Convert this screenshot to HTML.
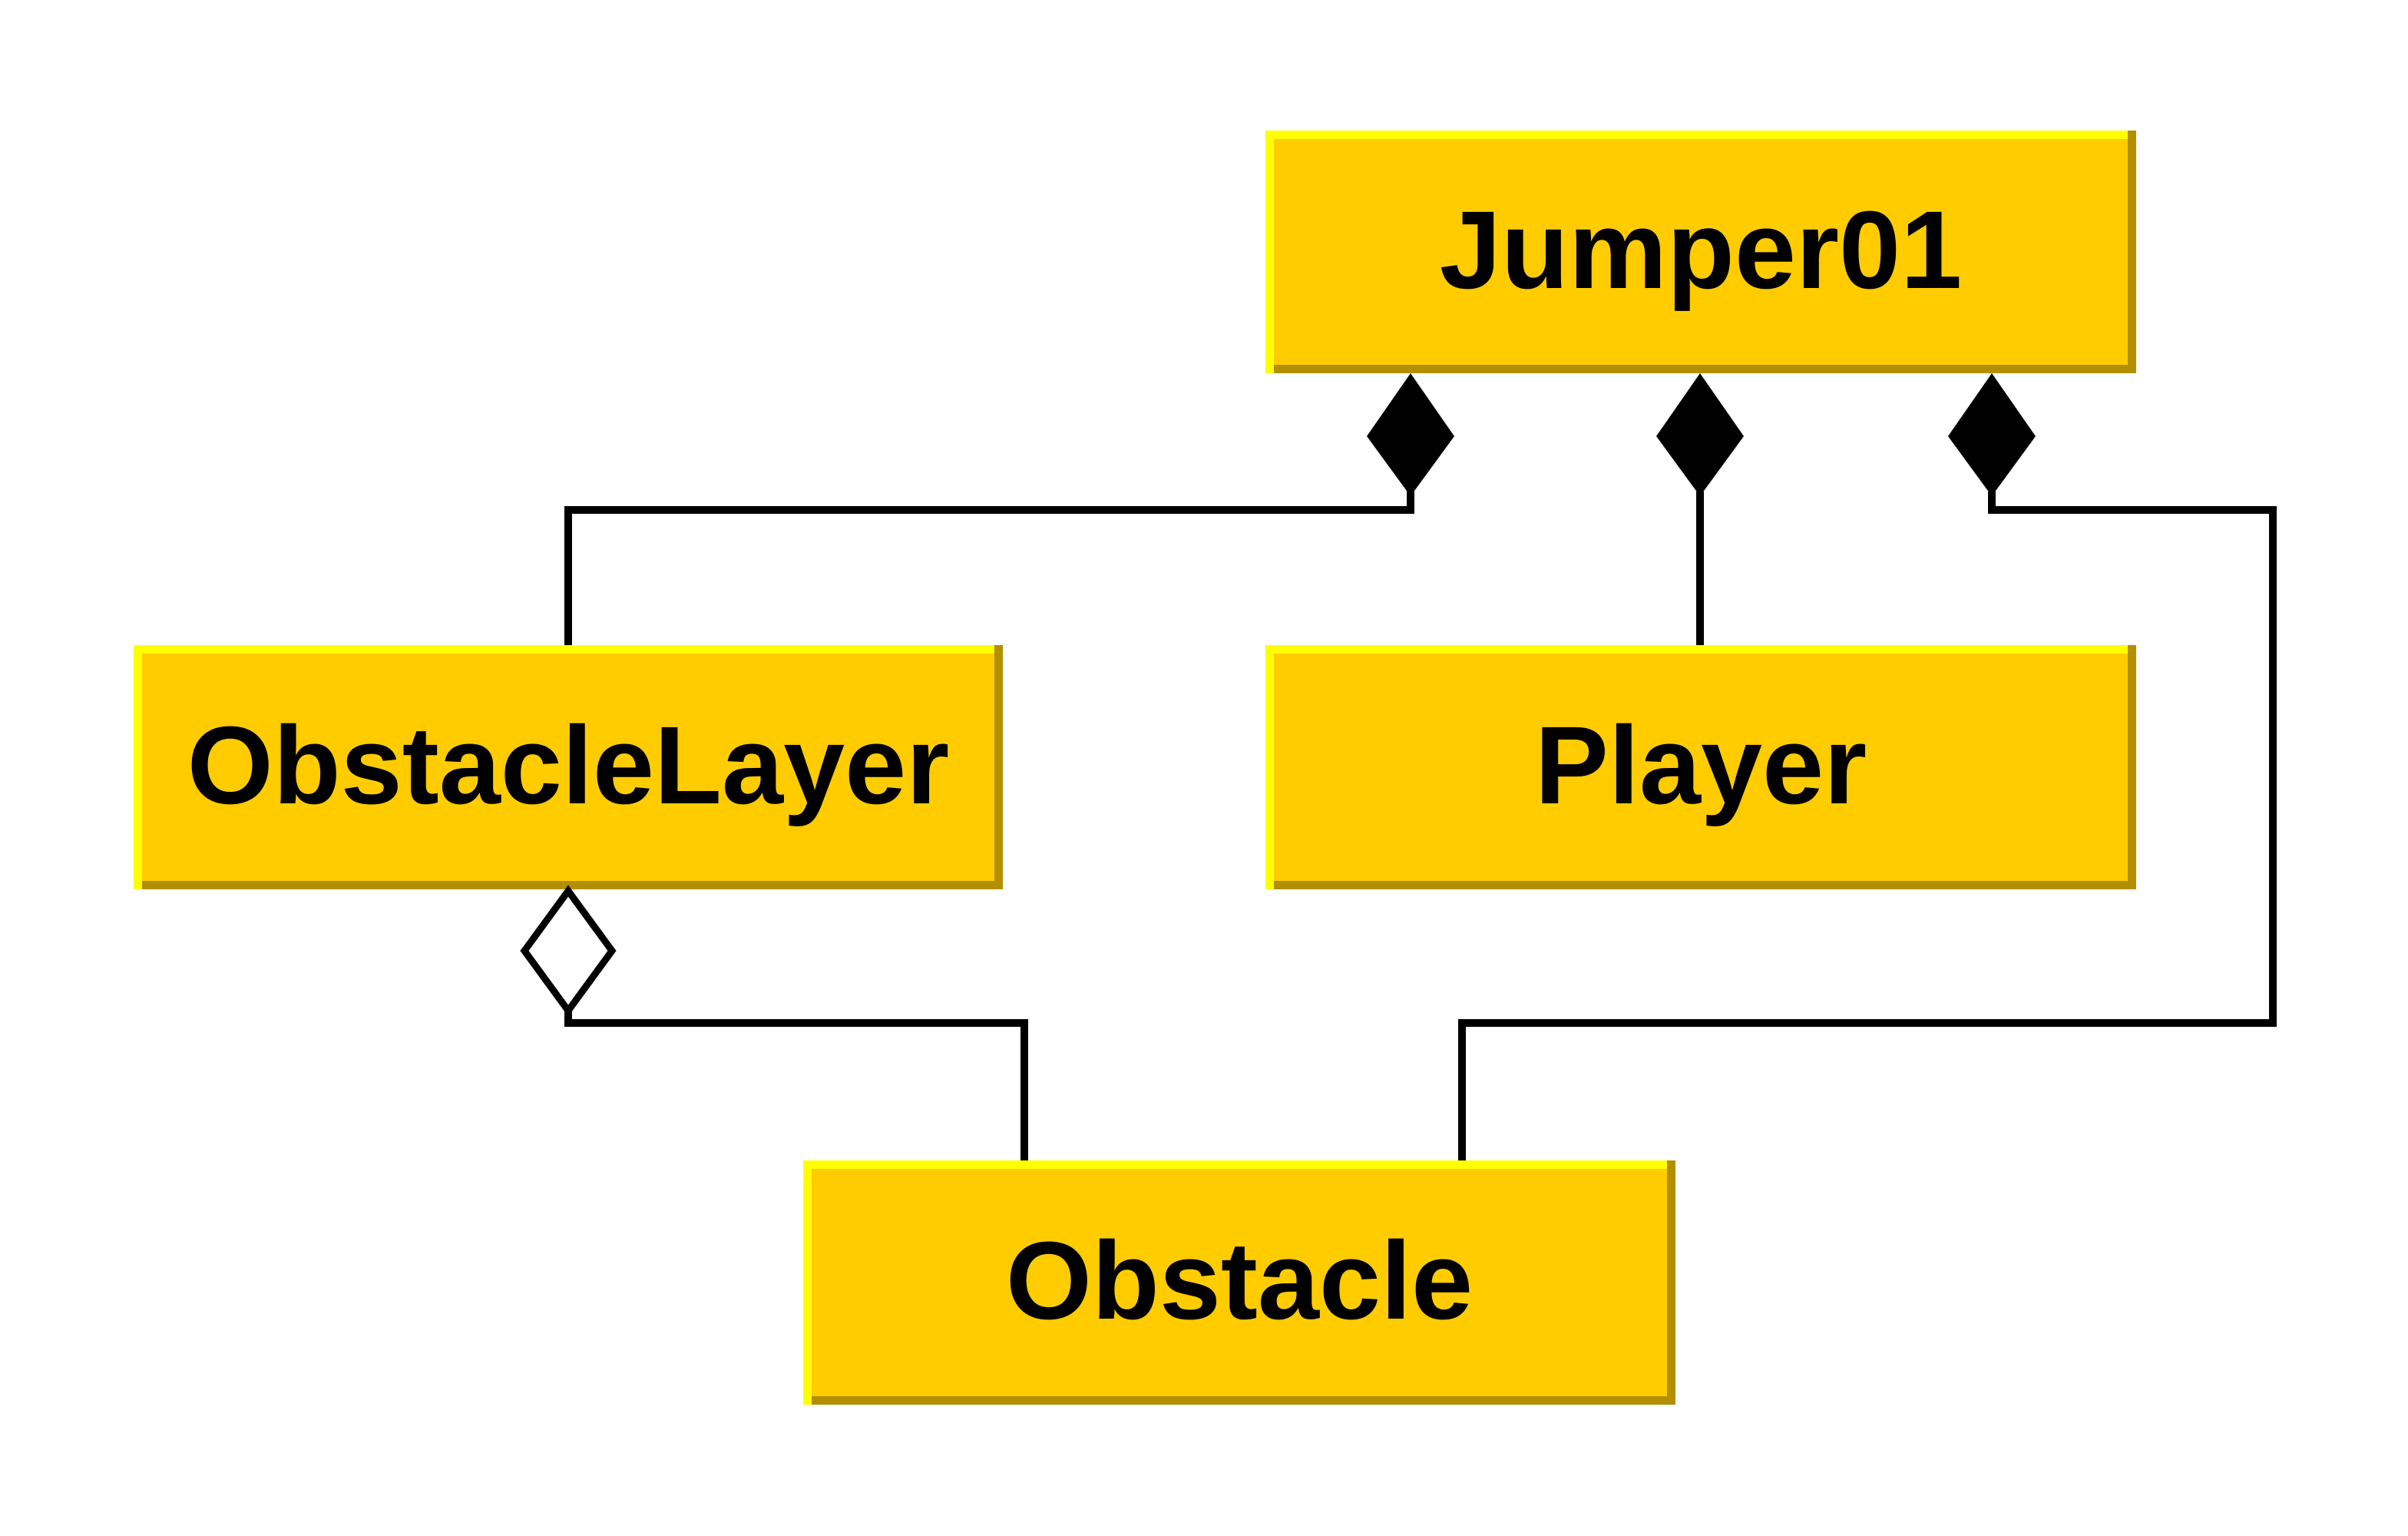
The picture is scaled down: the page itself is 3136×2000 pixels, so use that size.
<!DOCTYPE html>
<html><head><meta charset="utf-8"><style>
html,body{margin:0;padding:0;background:#fff;}
svg{display:block;}
text{font-family:"Liberation Sans",Arial,sans-serif;font-weight:bold;font-size:144px;fill:#000;text-anchor:middle;}
</style></head><body>
<svg width="3136" height="2000" viewBox="0 0 3136 2000" xmlns="http://www.w3.org/2000/svg">
<g>
<rect x="1648" y="170" width="1134" height="316" fill="#ffcc00"/>
<rect x="1648" y="170" width="11" height="316" fill="#ffff00"/>
<rect x="1659" y="170" width="1112" height="11" fill="#ffff00"/>
<rect x="2771" y="170" width="11" height="316" fill="#b38f00"/>
<rect x="1659" y="475" width="1112" height="11" fill="#b38f00"/>
<text x="2215" y="375">Jumper01</text>
</g>
<g>
<rect x="174" y="840" width="1132" height="318" fill="#ffcc00"/>
<rect x="174" y="840" width="11" height="318" fill="#ffff00"/>
<rect x="185" y="840" width="1110" height="11" fill="#ffff00"/>
<rect x="1295" y="840" width="11" height="318" fill="#b38f00"/>
<rect x="185" y="1147" width="1110" height="11" fill="#b38f00"/>
<text x="740" y="1046">ObstacleLayer</text>
</g>
<g>
<rect x="1648" y="840" width="1134" height="318" fill="#ffcc00"/>
<rect x="1648" y="840" width="11" height="318" fill="#ffff00"/>
<rect x="1659" y="840" width="1112" height="11" fill="#ffff00"/>
<rect x="2771" y="840" width="11" height="318" fill="#b38f00"/>
<rect x="1659" y="1147" width="1112" height="11" fill="#b38f00"/>
<text x="2215" y="1046">Player</text>
</g>
<g>
<rect x="1046" y="1511" width="1136" height="318" fill="#ffcc00"/>
<rect x="1046" y="1511" width="11" height="318" fill="#ffff00"/>
<rect x="1057" y="1511" width="1114" height="11" fill="#ffff00"/>
<rect x="2171" y="1511" width="11" height="318" fill="#b38f00"/>
<rect x="1057" y="1818" width="1114" height="11" fill="#b38f00"/>
<text x="1614" y="1717">Obstacle</text>
</g>
<g fill="none" stroke="#000" stroke-width="10">
<polyline points="1837,640 1837,664 740,664 740,840"/>
<polyline points="2214,640 2214,840"/>
<polyline points="2594,640 2594,664 2960,664 2960,1332 1904,1332 1904,1511"/>
<polyline points="740,1316 740,1332 1334,1332 1334,1511"/>
</g>
<g fill="#000">
<polygon points="1837,486 1894,568 1837,646 1780,568"/>
<polygon points="2214,486 2271,568 2214,646 2157,568"/>
<polygon points="2594,486 2651,568 2594,646 2537,568"/>
</g>
<polygon points="740,1160 797,1238 740,1316 683,1238" fill="#fff" stroke="#000" stroke-width="9"/>
</svg>
</body></html>
